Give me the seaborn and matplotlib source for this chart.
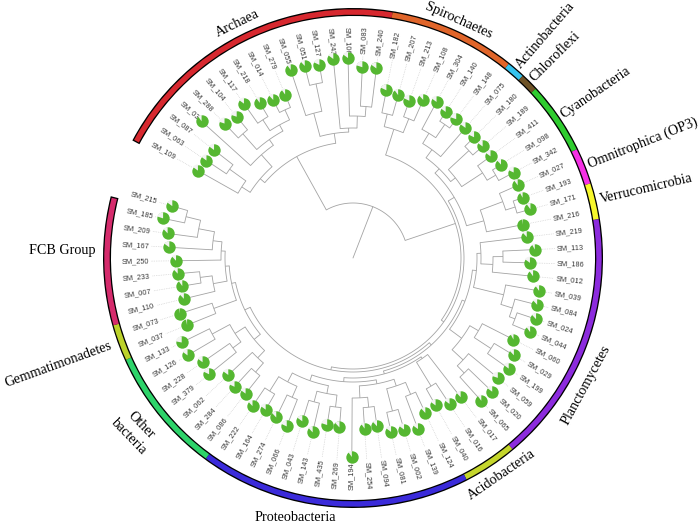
import numpy as np
import pandas as pd
import matplotlib
matplotlib.use("Agg")
import matplotlib.pyplot as plt
import seaborn as sns
from matplotlib.patches import Wedge

# ---------------- data ----------------
# Newick pieces; number after ':' = cumulative distance from the root
archaea_left = "((SM_109:0.178,(SM_063:0.176,SM_087:0.176):0.152):0.132,(SM_031:0.204,((SM_288:0.186,SM_104:0.183):0.166,((SM_117:0.189,SM_218:0.181):0.165,(SM_014:0.177,SM_279:0.177):0.163):0.152):0.145):0.138):0.122"
archaea_right = "((SM_055:0.198,(SM_051:0.198,SM_127:0.196):0.178):0.150,(SM_243:0.200,(SM_106:0.200,(SM_083:0.191,SM_240:0.191):0.152):0.142):0.130):0.126"
spiro_tree = "((SM_182:0.171,SM_207:0.169):0.148,(SM_213:0.167,SM_108:0.173):0.150):0.135"
upper_tree = ("((((SM_304:0.177,(SM_140:0.173,SM_148:0.173):0.162):0.146,SM_075:0.172):0.134,"
              "((SM_180:0.171,SM_189:0.171):0.158,(SM_411:0.171,(SM_098:0.175,SM_342:0.182):0.165):0.155):0.130):0.124,"
              "((SM_027:0.180,(SM_193:0.180,SM_171:0.184):0.170):0.160,SM_216:0.173):0.136):0.118")
plancto_tree = ("(((SM_219:0.175,((SM_113:0.182,SM_186:0.177):0.150,SM_012:0.181):0.140):0.128,"
                "(SM_039:0.189,(SM_084:0.190,(SM_024:0.193,SM_044:0.192):0.173):0.167):0.155):0.124,"
                "((SM_060:0.180,(SM_029:0.188,SM_199:0.191):0.165):0.145,(SM_059:0.188,(SM_020:0.193,SM_065:0.192):0.160):0.150):0.135):0.120")
acido_tree = "(SM_017:0.176,(SM_016:0.175,SM_040:0.169):0.150):0.122"
proteo_tree = ("((((SM_124:0.171,SM_139:0.183):0.148,(SM_002:0.179,SM_081:0.178):0.158):0.135,"
               "((SM_094:0.170,SM_254:0.171):0.150,SM_194:0.199):0.140):0.128,"
               "(((SM_269:0.170,SM_435:0.169):0.150,(SM_143:0.179,SM_043:0.171):0.149):0.138,"
               "((SM_066:0.181,SM_274:0.177):0.152,(SM_164:0.175,SM_222:0.179):0.157):0.140):0.130):0.124")
other_tree = ("(((SM_086:0.173,SM_284:0.175):0.150,SM_062:0.171):0.138,"
              "((SM_379:0.185,SM_228:0.183):0.150,(SM_126:0.192,SM_133:0.191):0.160):0.140):0.128")
gemma_tree = "(SM_037:0.179,SM_073:0.182):0.148"
fcb_tree = ("((SM_110:0.174,(SM_007:0.173,SM_233:0.176):0.154):0.142,"
            "(SM_250:0.177,(SM_167:0.184,(SM_209:0.187,(SM_185:0.194,SM_215:0.188):0.172):0.157):0.141):0.132):0.128")

tree_newick = (f"(({archaea_left},{archaea_right}):0.116,"
               f"({spiro_tree},({upper_tree},(({plancto_tree},({acido_tree},{proteo_tree}):0.120):0.117,"
               f"({other_tree},({gemma_tree},{fcb_tree}):0.124):0.120):0.114):0.111):0.108):0.055")

# share of the second (light) category in each tip pie
second_share = {
    "SM_109": .15, "SM_063": .15, "SM_087": .15, "SM_031": .10, "SM_288": .20, "SM_104": .20,
    "SM_117": .15, "SM_218": .10, "SM_014": .12, "SM_279": .10, "SM_055": .10, "SM_051": .12,
    "SM_127": .18, "SM_243": .15, "SM_106": .15, "SM_083": .20, "SM_240": .15, "SM_182": .18,
    "SM_207": .10, "SM_213": .18, "SM_108": .12, "SM_304": .15, "SM_140": .15, "SM_148": .20,
    "SM_075": .15, "SM_180": .18, "SM_189": .15, "SM_411": .15, "SM_098": .12, "SM_342": .18,
    "SM_027": .10, "SM_193": .08, "SM_171": .10, "SM_216": .02, "SM_219": .12, "SM_113": .08,
    "SM_186": .15, "SM_012": .10, "SM_039": .10, "SM_084": .12, "SM_024": .12, "SM_044": .10,
    "SM_060": .08, "SM_029": .12, "SM_199": .15, "SM_059": .20, "SM_020": .15, "SM_065": .10,
    "SM_017": .12, "SM_016": .15, "SM_040": .15, "SM_124": .12, "SM_139": .15, "SM_002": .15,
    "SM_081": .15, "SM_094": .12, "SM_254": .10, "SM_194": .10, "SM_269": .12, "SM_435": .20,
    "SM_143": .12, "SM_043": .15, "SM_066": .18, "SM_274": .12, "SM_164": .15, "SM_222": .12,
    "SM_086": .15, "SM_284": .18, "SM_062": .15, "SM_379": .18, "SM_228": .15, "SM_126": .15,
    "SM_133": .22, "SM_037": .03, "SM_073": .02, "SM_110": .12, "SM_007": .10, "SM_233": .12,
    "SM_250": .12, "SM_167": .15, "SM_209": .12, "SM_185": .20, "SM_215": .15,
}

group_names = ["Archaea", "Spirochaetes", "Actinobacteria", "Chloroflexi", "Cyanobacteria",
               "Omnitrophica (OP3)", "Verrucomicrobia", "Planctomycetes", "Acidobacteria",
               "Proteobacteria", "Other\nbacteria", "Gemmatimonadetes", "FCB Group"]
group_sizes = [17, 7, 1, 1, 4, 2, 2, 14, 3, 15, 7, 2, 8]
group_colors = ["#D7282F", "#E0652A", "#35C3EE", "#6E5226", "#2FCC2F", "#F531E5", "#F7F72D",
                "#8C2BDD", "#C5D62C", "#3B2BDA", "#2DD36A", "#BCD22B", "#D52B6C"]

# ---------------- parse tree ----------------
def parse_newick(s):
    s = "".join(s.split())
    pos = 0

    def node():
        nonlocal pos
        if s[pos] == "(":
            pos += 1
            kids = [node()]
            while s[pos] == ",":
                pos += 1
                kids.append(node())
            pos += 1  # ')'
            name = None
        else:
            st = pos
            while s[pos] not in ":,)":
                pos += 1
            name = s[st:pos]
            kids = []
        depth = 0.0
        if pos < len(s) and s[pos] == ":":
            pos += 1
            st = pos
            while pos < len(s) and s[pos] not in ",)":
                pos += 1
            depth = float(s[st:pos])
        return {"name": name, "kids": kids, "depth": depth}

    return node()

root = parse_newick(tree_newick)

# ---------------- layout ----------------
W, H = 700, 527
CX, CY = 353, H - 258
SCALE = 1000.0
START, STEP = 150.6, 4.227

leaves = []

def assign(n):
    if not n["kids"]:
        n["angle"] = START - STEP * len(leaves)
        leaves.append(n)
    else:
        for k in n["kids"]:
            assign(k)
        n["angle"] = 0.5 * (n["kids"][0]["angle"] + n["kids"][-1]["angle"])

assign(root)

def pt(r, a):
    t = np.deg2rad(a)
    return CX + r * np.cos(t), CY + r * np.sin(t)

sns.set_theme(style="white")
plt.rcParams["font.family"] = ["Liberation Sans", "DejaVu Sans"]

fig = plt.figure(figsize=(W / 100, H / 100), dpi=100)
ax = fig.add_axes([0, 0, 1, 1])
ax.set_xlim(0, W)
ax.set_ylim(0, H)
ax.axis("off")

LC, LW = "#A3A3A3", 0.6

def draw(n):
    r0 = n["depth"] * SCALE
    for k in n["kids"]:
        r1 = k["depth"] * SCALE
        x0, y0 = pt(r0, k["angle"])
        x1, y1 = pt(r1, k["angle"])
        ax.plot([x0, x1], [y0, y1], color=LC, lw=LW, zorder=1, solid_capstyle="butt")
        draw(k)
    if n["kids"]:
        a = np.linspace(n["kids"][-1]["angle"], n["kids"][0]["angle"], 80)
        xs, ys = pt(r0, a)
        ax.plot(xs, ys, color=LC, lw=LW, zorder=1)

draw(root)
x0, y0 = pt(0, root["angle"])
x1, y1 = pt(root["depth"] * SCALE, root["angle"])
ax.plot([x0, x1], [y0, y1], color=LC, lw=LW, zorder=1)

# leaves: pies, leader lines, labels
PIE_R = 6.2
LAB_R = 204
tips = pd.DataFrame({
    "name": [l["name"] for l in leaves],
    "angle": [l["angle"] for l in leaves],
    "r": [l["depth"] * SCALE for l in leaves],
})
tips["x"], tips["y"] = pt(tips["r"].values, tips["angle"].values)

for _, t in tips.iterrows():
    if t.r + PIE_R + 1 < LAB_R - 2:
        xa, ya = pt(t.r + PIE_R + 1, t.angle)
        xb, yb = pt(LAB_R - 2, t.angle)
        ax.plot([xa, xb], [ya, yb], color="#C8C8C8", lw=0.5, ls=(0, (1, 1.5)), zorder=1)
    a = ((t.angle + 180) % 360) - 180
    right = -90 < a < 90
    rot = a if right else a - 180
    lx, ly = pt(LAB_R, t.angle)
    ax.text(lx, ly, t["name"], rotation=rot, rotation_mode="anchor",
            ha="left" if right else "right", va="center", fontsize=5.3, color="#3A3A3A")

sns.scatterplot(data=tips, x="x", y="y", color="#55B731", s=(2 * PIE_R * 0.72) ** 2,
                linewidth=0, ax=ax, zorder=3, legend=False)
for _, t in tips.iterrows():
    f = second_share[t["name"]]
    if f > 0:
        ax.add_patch(Wedge((t.x, t.y), PIE_R, 90, 90 + 360 * f, facecolor="#F3F3F3",
                           edgecolor="none", zorder=4))

# outer ring
R_OUT, R_IN = 250.0, 242.0
bounds = [START + STEP * 0.25]
cum = 0
for s in group_sizes[:-1]:
    cum += s
    bounds.append(START - STEP * (cum - 0.5))
bounds.append(START - STEP * (len(leaves) - 1) + 2.0)
ax.add_patch(Wedge((CX, CY), R_OUT, bounds[-1] - 0.3, bounds[0] + 0.3, width=R_OUT - R_IN,
                   facecolor="black", edgecolor="none", zorder=2))
for i, c in enumerate(group_colors):
    ax.add_patch(Wedge((CX, CY), R_OUT - 1.3, bounds[i + 1], bounds[i], width=R_OUT - R_IN - 2.6,
                       facecolor=c, edgecolor="none", zorder=2))

# group labels: (mode, radius, angle offset, rotation override)
label_layout = {
    "Archaea": ("tan", 262, 0, None),
    "Spirochaetes": ("tan", 260, 0, None),
    "Actinobacteria": ("rad", 253, 0, None),
    "Chloroflexi": ("rad", 253, 0, None),
    "Cyanobacteria": ("rad", 253, 0, None),
    "Omnitrophica (OP3)": ("rad", 253, 0, None),
    "Verrucomicrobia": ("rad", 254, 0, None),
    "Planctomycetes": ("tan", 265, -8, None),
    "Acidobacteria": ("tan", 263, 1, None),
    "Proteobacteria": ("h", 266, -8, None),
    "Other\nbacteria": ("tan", 278, -0.5, -46),
    "Gemmatimonadetes": ("rad", 257, 0, None),
    "FCB Group": ("hrad", 258, -2.6, None),
}
for i, name in enumerate(group_names):
    mode, rad, off, rov = label_layout[name]
    mid = 0.5 * (bounds[i] + bounds[i + 1]) + off
    x, y = pt(rad, mid)
    a = ((mid + 180) % 360) - 180
    kw = dict(fontsize=10.2, color="black", family=["Liberation Serif", "DejaVu Serif"],
              rotation_mode="anchor", linespacing=1.45)
    if mode == "tan":
        rot = a - 90 if a > 0 else a + 90
        if rov is not None:
            rot = rov
        ax.text(x, y, name, rotation=rot, ha="center", va="center", **kw)
    elif mode == "rad":
        right = -90 < a < 90
        ax.text(x, y, name, rotation=a if right else a - 180,
                ha="left" if right else "right", va="center", **kw)
    elif mode == "h":
        ax.text(x, y, name, rotation=0, ha="center", va="center", **kw)
    else:
        ax.text(x, y, name, rotation=0, ha="right", va="center", **kw)

fig.savefig("out.png", dpi=100)
